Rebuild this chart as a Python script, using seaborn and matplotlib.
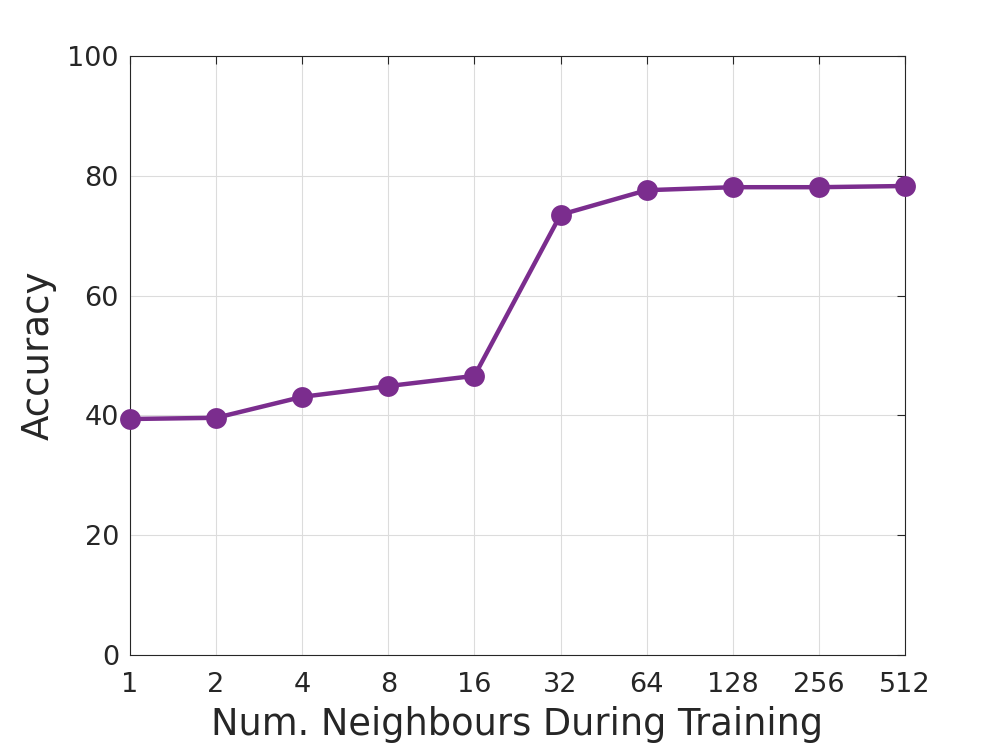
import numpy as np
import pandas as pd
import matplotlib
matplotlib.use('Agg')
import matplotlib.pyplot as plt
import seaborn as sns

# 数据
neighbours = [1, 2, 4, 8, 16, 32, 64, 128, 256, 512]
accuracy = [39.4, 39.6, 43.1, 44.9, 46.6, 73.5, 77.6, 78.1, 78.1, 78.3]
tick_labels = ['1', '2', '4', '8', '16', '32', '64', '128', '256', '512']

sns.set_style("white")
plt.rcParams['font.family'] = ['DejaVu Sans']

df = pd.DataFrame({'neighbours': neighbours, 'accuracy': accuracy})

fig = plt.figure(figsize=(10, 7.45), dpi=100)
ax = fig.add_axes([0.13, 0.1208, 0.775, 0.804])

sns.lineplot(data=df, x='neighbours', y='accuracy', ax=ax, color='#7B2D8E',
             linewidth=3.2, marker='o', markersize=15, markeredgewidth=0,
             zorder=3, clip_on=False)

ax.set_xscale('log', base=2)
ax.set_xlim(1, 512)
ax.set_ylim(0, 100)
ax.set_xticks(neighbours)
ax.set_xticklabels(tick_labels)
ax.minorticks_off()
ax.set_yticks([0, 20, 40, 60, 80, 100])

ax.grid(True, color='#dcdcdc', linewidth=0.8)
ax.set_axisbelow(True)
for s in ax.spines.values():
    s.set_color('#262626')
    s.set_linewidth(0.8)
ax.tick_params(direction='in', length=6, width=0.8, colors='#262626',
               labelsize=19.5, top=True, right=True)
ax.tick_params(axis='x', pad=12)
ax.tick_params(axis='y', pad=8)
for lab in ax.get_xticklabels() + ax.get_yticklabels():
    lab.set_color('#262626')

ax.set_xlabel('Num. Neighbours During Training', fontsize=26.5, color='#262626', labelpad=6)
ax.set_ylabel('Accuracy', fontsize=26.7, color='#262626', labelpad=8)

plt.savefig('out.png', dpi=100)
